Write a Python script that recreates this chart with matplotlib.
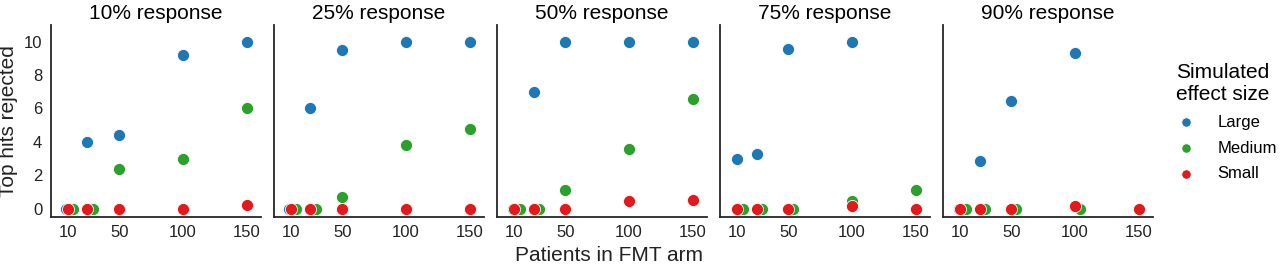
import numpy as np
import matplotlib
matplotlib.use("Agg")
import matplotlib.pyplot as plt

plt.rcParams['font.family'] = ['Liberation Sans', 'DejaVu Sans']

# --- data ---
patients = [10, 25, 50, 100, 150]
responses = ["10% response", "25% response", "50% response", "75% response", "90% response"]
effect_sizes = ["Large", "Medium", "Small"]

large = [
    [0, 4.0, 4.4, 9.2, 10],
    [0, 6.05, 9.5, 10, 10],
    [0, 7.0, 10, 10, 10],
    [3.0, 3.25, 9.55, 10, np.nan],
    [0, 2.85, 6.45, 9.3, np.nan],
]
medium = [
    [0, 0, 2.35, 3.0, 6.0],
    [0, 0, 0.7, 3.8, 4.8],
    [0, 0, 1.15, 3.6, 6.55],
    [0, 0, 0, 0.45, 1.1],
    [0, 0, 0, 0, np.nan],
]
small = [
    [0, 0, 0, 0, 0.2],
    [0, 0, 0, 0, 0],
    [0, 0, 0, 0.45, 0.52],
    [0, 0, 0, 0.15, 0],
    [0, 0, 0, 0.15, 0],
]

colors = {"Large": "#1f77b4", "Medium": "#2ca02c", "Small": "#e31a1c"}
# small sideways shift so overlapping points near zero stay visible
dodge = {"Large": -1.5, "Medium": 4.0, "Small": 0.0}
series = {"Large": large, "Medium": medium, "Small": small}

fig, axes = plt.subplots(1, 5, figsize=(12.8, 2.68), dpi=100, sharey=True)
fig.subplots_adjust(left=0.0395, right=0.9005, bottom=0.19, top=0.907, wspace=0.062)

x = np.array(patients, dtype=float)
for i, ax in enumerate(axes):
    for name in effect_sizes:
        y = np.array(series[name][i], dtype=float)
        xs = np.where(y < 0.3, x + dodge[name], x)
        ax.scatter(xs, y, s=76, color=colors[name],
                   edgecolor="white", linewidth=0.6, label=name, zorder=3)
    ax.set_title(responses[i], fontsize=15, pad=4)
    ax.set_xlim(-4, 161)
    ax.set_ylim(-0.5, 11.0)
    ax.set_xticks([10, 50, 100, 150])
    ax.set_yticks([0, 2, 4, 6, 8, 10])
    ax.tick_params(length=0, labelsize=12, pad=6, colors="#222222")
    for s in ["top", "right"]:
        ax.spines[s].set_visible(False)
    for s in ["left", "bottom"]:
        ax.spines[s].set_linewidth(1.3)
        ax.spines[s].set_color("#262626")

axes[0].set_ylabel("Top hits rejected", fontsize=15, color="#222222")
fig.text(609 / 1280, 0.045, "Patients in FMT arm", ha="center", va="center",
         fontsize=15, color="#222222")

handles, labels = axes[0].get_legend_handles_labels()
leg = fig.legend(handles, labels, title="Simulated\neffect size", loc="upper left",
                 bbox_to_anchor=(0.908, 0.79), frameon=False, fontsize=12,
                 title_fontsize=15, handletextpad=0.9, labelspacing=0.65,
                 markerscale=0.78, borderaxespad=0)
leg.get_title().set_multialignment("left")

fig.savefig("out.png", dpi=100)
